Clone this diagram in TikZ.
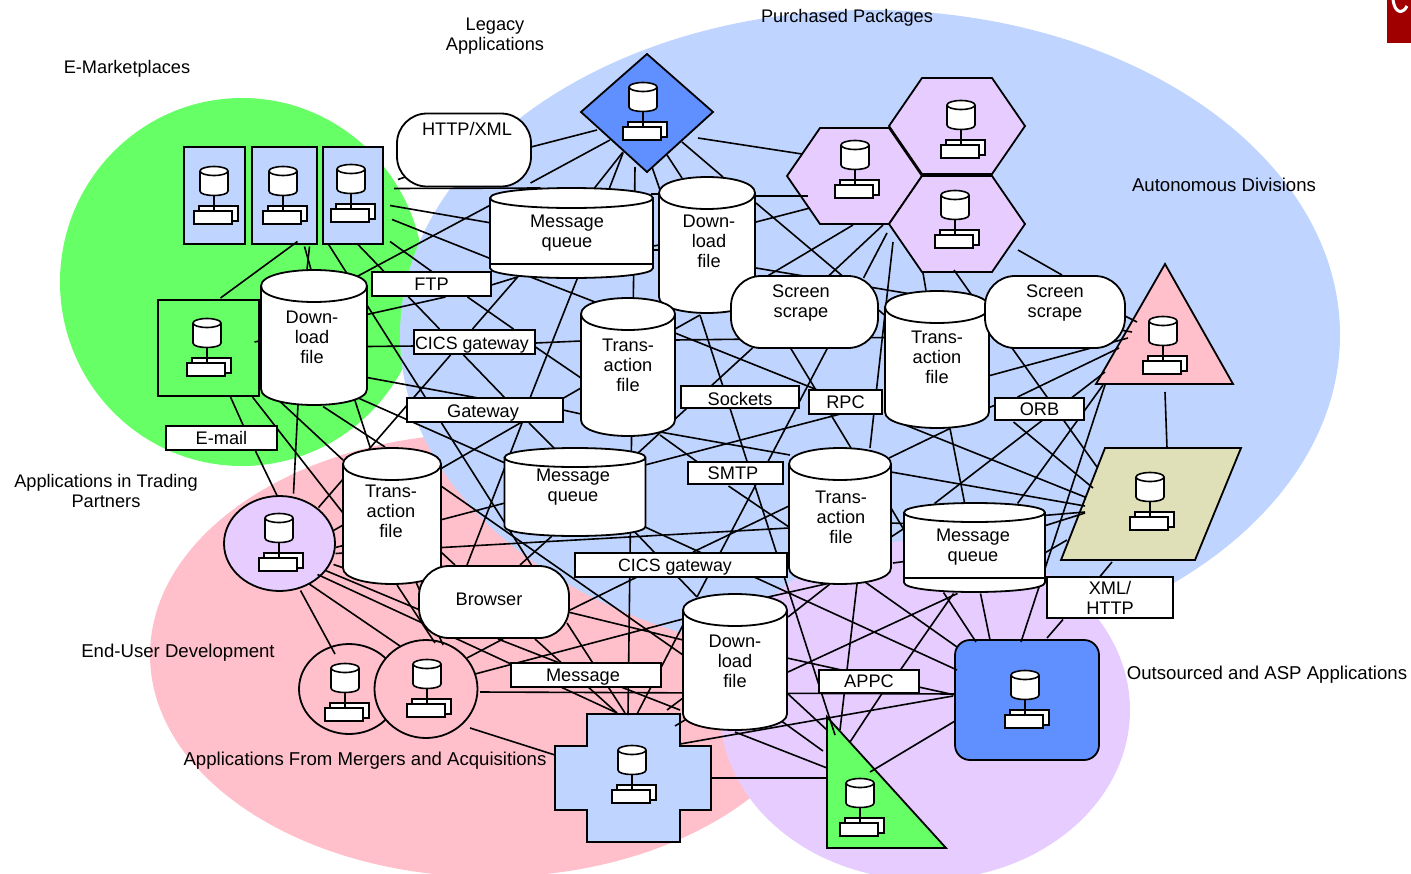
\documentclass[tikz,border=0pt]{standalone}
\usepackage{fontspec}
\setmainfont{Liberation Sans}
\usepackage{xcolor}
\usetikzlibrary{shapes.geometric}
\definecolor{zoneblue}{HTML}{BFD4FF}
\definecolor{zonegreen}{HTML}{66FF66}
\definecolor{zonepink}{HTML}{FFC0CB}
\definecolor{zonelav}{HTML}{E6CCFF}
\definecolor{deepblue}{HTML}{6090FF}
\definecolor{tanfill}{HTML}{E0E0B8}
\definecolor{logored}{HTML}{A00000}
\pgfdeclarelayer{back}
\pgfdeclarelayer{links}
\pgfsetlayers{back,links,main}
\tikzset{
  every node/.style={font=\fontsize{18.2}{20}\selectfont,align=center},
  zonecap/.style={font=\fontsize{18.6}{20}\selectfont},
  wire/.style={line width=1.6pt},
  plain/.style={draw,line width=1.8pt,inner sep=0pt},
  lbl/.style={plain,rectangle,fill=white},
  pill/.style={plain,rectangle,fill=white,rounded corners=30pt,minimum width=#1,minimum height=72pt},
  server/.pic={
    \draw[line width=1.6pt,fill=white] (-15,35) rectangle (24,50);
    \draw[line width=1.6pt] (0,25) -- (0,40);
    \draw[line width=1.6pt,fill=white] (-20,40) rectangle (18,53);
    \draw[line width=1.6pt,fill=white] (-14,0) -- (-14,20) .. controls (-14,26) and (14,26) .. (14,20) -- (14,0);
    \draw[line width=1.6pt,fill=white] (0,0) ellipse [x radius=14,y radius=4.5];
  }
}
\newcommand{\lnk}[4]{\draw[wire] ([shift={(#2)}]#1.center) -- ([shift={(#4)}]#3.center);}
% name, x, y, width, height, end radius
\newcommand{\canfile}[6]{%
  \node[inner sep=0pt,minimum width=#4pt,minimum height=#5pt] (#1) at (#2,#3) {};
  \draw[line width=1.8pt,fill=white,shift={(#2,#3)}] (-#4/2,-#5/2+#6) -- (-#4/2,#5/2-#6)
    .. controls (-#4/2,#5/2+#6/3) and (#4/2,#5/2+#6/3) .. (#4/2,#5/2-#6) -- (#4/2,-#5/2+#6)
    .. controls (#4/2,-#5/2-#6/3) and (-#4/2,-#5/2-#6/3) .. (-#4/2,-#5/2+#6)
    .. controls (-#4/2,-#5/2+#6*7/3) and (#4/2,-#5/2+#6*7/3) .. (#4/2,-#5/2+#6);
}
\begin{document}
\begin{tikzpicture}[x=1pt,y=-1pt]
\useasboundingbox (0,0) rectangle (1411,873);
\begin{pgfonlayer}{back}
  % zones
  \fill[zonegreen] (242,282) ellipse [x radius=182,y radius=184];
  \fill[zonepink] (490,655) ellipse [x radius=340,y radius=222];
  \fill[zoneblue] (870,335) ellipse [x radius=470,y radius=325];
  \fill[zonelav] (925,710) ellipse [x radius=205,y radius=170];
  \fill[logored] (1387,0) rectangle (1411,43);
  \draw[white,line width=3pt] (1393,0) .. controls (1395,14) and (1403,14) .. (1407,6);
  % coloured application shapes
  \node[plain,fill=zoneblue,minimum width=61pt,minimum height=97pt] (emA) at (214.5,195.5) {};
  \node[plain,fill=zoneblue,minimum width=65pt,minimum height=97pt] (emB) at (284.5,195.5) {};
  \node[plain,fill=zoneblue,minimum width=60pt,minimum height=97pt] (emC) at (353,195.5) {};
  \node[plain,fill=zonegreen,minimum width=101pt,minimum height=96pt] (sqG) at (208.5,348) {};
  \node[plain,ellipse,fill=zonelav,minimum width=111pt,minimum height=95pt] (lavC) at (279.5,543.5) {};
  \node[plain,ellipse,fill=zonepink,minimum width=100pt,minimum height=90pt] (cirA) at (349,689) {};
  \node[plain,ellipse,fill=zonepink,minimum width=103pt,minimum height=98pt] (cirB) at (426,689) {};
  \node[plain,fill=deepblue,rounded corners=15pt,minimum width=144pt,minimum height=120pt] (bluR) at (1027,700) {};
  \coordinate (diaL) at (647,113);
  \coordinate (hexA) at (855,176);
  \coordinate (hexB) at (957,126);
  \coordinate (hexC) at (957,224);
  \coordinate (crsP) at (633,778);
  \coordinate (triG) at (860,790);
  \coordinate (tanP) at (1150,504);
  \coordinate (triP) at (1165,340);
  \draw[line width=1.8pt,fill=deepblue] (581,112) -- (647,54) -- (713,112) -- (647,172) -- cycle;
  \draw[line width=1.8pt,fill=zonelav] (787,176) -- (820,128) -- (889,128) -- (922,176) -- (889,224) -- (820,224) -- cycle;
  \draw[line width=1.8pt,fill=zonelav] (889,126) -- (922,78) -- (992,78) -- (1025,126) -- (992,174) -- (922,174) -- cycle;
  \draw[line width=1.8pt,fill=zonelav] (889,224) -- (922,176) -- (992,176) -- (1025,224) -- (992,272) -- (922,272) -- cycle;
  \draw[line width=1.8pt,fill=zoneblue] (587,714) -- (680,714) -- (680,746) -- (711,746) -- (711,810) -- (680,810) -- (680,842) -- (587,842) -- (587,810) -- (555,810) -- (555,746) -- (587,746) -- cycle;
  \draw[line width=1.8pt,fill=zonegreen] (827,717) -- (946,848) -- (827,848) -- cycle;
  \draw[line width=1.8pt,fill=tanfill] (1105,448) -- (1241,448) -- (1195,560) -- (1061,560) -- cycle;
  \draw[line width=1.8pt,fill=zonepink] (1165,264) -- (1233,384) -- (1096,384) -- cycle;
\end{pgfonlayer}

% files and queues
\canfile{msgA}{571.5}{233}{163}{90}{10}
\canfile{msgB}{575}{492}{141}{88}{9.5}
\canfile{msgC}{974.5}{547.5}{141}{89}{9.5}
\canfile{dlB}{707}{245}{96}{136}{16}
\canfile{dlA}{314}{337.5}{106}{135}{16}
\canfile{dlC}{735}{662}{104}{136}{16}
\canfile{trA}{628}{367}{94}{138}{16}
\canfile{trB}{937}{359.5}{104}{137}{16}
\canfile{trC}{392}{516}{98}{136}{16}
\canfile{trD}{840}{516}{102}{136}{16}
\draw[line width=1.5pt] (490,264) -- (653,264);
\draw[line width=1.5pt] (904,578) -- (1045,578);
\node (msgAtxt) at (567,233) {Message\\queue};
\node (msgBtxt) at (573,487) {Message\\queue};
\node (msgCtxt) at (973,547) {Message\\queue};
\node (dlAtxt) at (312,337) {Down-\\load\\file};
\node (dlBtxt) at (709,241) {Down-\\load\\file};
\node (dlCtxt) at (735,661) {Down-\\load\\file};
\node (trAtxt) at (628,365) {Trans-\\action\\file};
\node (trBtxt) at (937,357) {Trans-\\action\\file};
\node (trCtxt) at (391,511) {Trans-\\action\\file};
\node (trDtxt) at (841,517) {Trans-\\action\\file};

% pills
\node[pill=134pt,minimum height=73pt] (httpB) at (464,150) {};
\node[pill=147pt] (scrA) at (804.5,312) {};
\node[pill=140pt] (scrB) at (1055,312) {};
\node[pill=150pt] (brwP) at (494,602) {};
\node (httpT) at (467,129) {HTTP/XML};
\node (scrAtxt) at (801,303) {Screen\\scrape};
\node (scrBtxt) at (1055,303) {Screen\\scrape};
\node (brwT) at (489,599) {Browser};

% protocol boxes
\node[lbl,minimum width=119pt,minimum height=24pt] (ftpL) at (431.5,284) {FTP};
\node[lbl,minimum width=121pt,minimum height=24pt] (cicsA) at (474.5,342) {};
\node[font=\fontsize{17.8}{20}\selectfont] (cicsAt) at (472,345) {CICS gateway};
\node[lbl,minimum width=156pt,minimum height=24pt] (gateL) at (485,410) {};
\node (gateT) at (483,413) {Gateway};
\node[lbl,minimum width=111pt,minimum height=24pt] (mailL) at (221.5,438) {E-mail};
\node[lbl,minimum width=118pt,minimum height=22pt] (sockL) at (740,397) {};
\node (sockT) at (740,399) {Sockets};
\node[lbl,minimum width=73pt,minimum height=24pt] (rpcL) at (845.5,402) {RPC};
\node[lbl,minimum width=89pt,minimum height=22pt] (orbL) at (1039.5,409) {ORB};
\node[lbl,minimum width=95pt,minimum height=22pt] (smtpL) at (735.5,473) {};
\node (smtpT) at (733,473) {SMTP};
\node[lbl,minimum width=212pt,minimum height=24pt] (cicsB) at (681,565) {};
\node[font=\fontsize{17.8}{20}\selectfont] (cicsBt) at (675,567) {CICS gateway};
\node[lbl,minimum width=150pt,minimum height=24pt] (msgL) at (586,675) {};
\node (msgLt) at (583,677) {Message};
\node[lbl,minimum width=100pt,minimum height=23pt] (appcL) at (869,681.5) {APPC};
\node[lbl,minimum width=126pt,minimum height=41pt] (xmlL) at (1110,597.5) {XML/\\HTTP};

% servers
\pic (srvL) at (643,87) {server};
\pic (srvHA) at (855,145) {server};
\pic (srvHB) at (961,105) {server};
\pic (srvHC) at (955,195) {server};
\pic (srvEA) at (214,171) {server};
\pic (srvEB) at (283,171) {server};
\pic (srvEC) at (351,169) {server};
\pic (srvG) at (207,323) {server};
\pic (srvT) at (279,518) {server};
\pic (srvCA) at (345,668) {server};
\pic (srvCB) at (427,664) {server};
\pic (srvX) at (632,750) {server};
\pic (srvTG) at (860,783) {server};
\pic (srvR) at (1025,675) {server};
\pic (srvTN) at (1150,477) {server};
\pic (srvTP) at (1163,321) {server};

% zone captions
\node (capLeg) at (495,36) {Legacy\\Applications};
\node (capPur) at (847,18) {Purchased Packages};
\node (capEm) at (127,69) {E-Marketplaces};
\node[zonecap] (capAut) at (1224,185) {Autonomous Divisions};
\node (capTrd) at (106,491) {Applications in Trading\\Partners};
\node[zonecap] (capEnd) at (178,653) {End-User Development};
\node[zonecap] (capMrg) at (365,761) {Applications From Mergers and Acquisitions};
\node[zonecap] (capOut) at (1267,675) {Outsourced and ASP Applications};

\begin{pgfonlayer}{links}
  % e-marketplace side
  \lnk{emC}{45,-16}{httpB}{-44,22}
  \lnk{emC}{41,-7}{msgA}{-31,-45}
  \lnk{emC}{37,10}{msgA}{-80,-10}
  \lnk{emC}{39,24}{msgA}{-80,26}
  \lnk{emC}{37,46}{ftpL}{1,-12}
  \lnk{emC}{4,48}{cicsA}{-35,-13}
  \lnk{emC}{-25,48}{brwP}{38,-36}
  \lnk{emB}{13,46}{sqG}{12,-50}
  \lnk{emB}{20,51}{dlA}{-3,-68}
  \lnk{emB}{25,51}{dlA}{-7,-68}
  \lnk{dlA}{43,-61}{msgA}{-81,-28}
  \lnk{dlA}{53,-23}{ftpL}{14,13}
  \lnk{ftpL}{60,1}{msgA}{-54,44}
  \lnk{ftpL}{36,13}{cicsA}{39,-13}
  \lnk{cicsA}{-2,-13}{msgA}{-53,43}
  \lnk{dlA}{53,9}{cicsA}{-59,4}
  \lnk{cicsA}{-24,13}{lavC}{39,-36}
  \lnk{cicsA}{-11,13}{gateL}{20,-12}
  \lnk{msgA}{6,45}{gateL}{45,-12}
  \lnk{cicsA}{61,1}{trA}{-47,-26}
  \lnk{cicsA}{61,5}{trA}{-47,11}
  \lnk{dlA}{53,40}{gateL}{-7,-12}
  \lnk{dlA}{43,60}{msgB}{-70,-29}
  \lnk{dlA}{40,60}{trC}{-22,-69}
  \lnk{dlA}{9,69}{trC}{-7,-69}
  \lnk{dlA}{-34,64}{trC}{-49,-56}
  \lnk{dlA}{-16,67}{lavC}{14,-50}
  \lnk{sqG}{22,49}{mailL}{22,-12}
  \lnk{mailL}{34,13}{lavC}{-2,-47}
  \lnk{sqG}{44,49}{trC}{-49,-3}
  \lnk{sqG}{46,-6}{dlA}{-52,3}
  % trading partner
  \lnk{lavC}{54,-13}{trA}{-47,21}
  \lnk{lavC}{56,4}{msgB}{-70,11}
  \lnk{lavC}{56,10}{trD}{-51,12}
  \lnk{lavC}{54,21}{trC}{-42,54}
  \lnk{lavC}{46,27}{brwP}{-74,8}
  \lnk{lavC}{38,31}{crsP}{-16,-65}
  \lnk{lavC}{29,40}{cirB}{-26,-43}
  \lnk{lavC}{21,47}{cirA}{-14,-35}
  % browser and end user
  \lnk{trC}{24,66}{cirB}{17,-44}
  \lnk{trC}{5,69}{cirB}{9,-46}
  \lnk{brwP}{9,37}{cirB}{41,-31}
  \lnk{brwP}{4,37}{dlC}{-55,48}
  \lnk{brwP}{41,37}{crsP}{-16,-65}
  \lnk{brwP}{73,21}{crsP}{-8,-65}
  \lnk{brwP}{74,10}{dlC}{-52,-22}
  \lnk{brwP}{76,8}{cicsB}{-44,12}
  \lnk{cirB}{49,-15}{dlC}{-52,-43}
  \lnk{cirB}{54,3}{bluR}{-72,-6}
  \lnk{cirB}{44,39}{crsP}{-78,-23}
  \lnk{dlC}{-52,-37}{crsP}{4,-64}
  \lnk{crsP}{34,-68}{dlC}{-52,36}
  \lnk{crsP}{42,-52}{dlC}{-45,55}
  \lnk{diaL}{-12,54}{crsP}{-5,-63}
  % middle
  \lnk{gateL}{37,13}{brwP}{-27,-37}
  \lnk{gateL}{44,13}{msgB}{-21,-44}
  \lnk{trC}{49,-30}{dlC}{-52,-7}
  \lnk{trC}{49,36}{brwP}{-39,-37}
  \lnk{msgB}{-23,44}{brwP}{26,-37}
  \lnk{msgB}{58,38}{dlC}{-38,-65}
  \lnk{msgB}{70,35}{bluR}{-70,-30}
  \lnk{cicsB}{12,-13}{trD}{-51,-10}
  \lnk{scrA}{23,36}{dlC}{-38,-65}
  \lnk{smtpL}{-7,13}{trD}{-51,11}
  \lnk{dlB}{-7,70}{triG}{-25,-55}
  \lnk{msgB}{70,-27}{rpcL}{-5,12}
  \lnk{trA}{32,65}{trD}{-50,-61}
  \lnk{trA}{32,68}{smtpL}{-38,-11}
  \lnk{scrA}{-52,36}{msgB}{63,-39}
  \lnk{gateL}{78,0}{trA}{-47,47}
  % outsourced side
  \lnk{dlC}{33,-65}{trD}{-10,67}
  \lnk{dlC}{53,-45}{trD}{-10,68}
  \lnk{trD}{17,68}{triG}{-20,-60}
  \lnk{trD}{25,66}{bluR}{-70,-53}
  \lnk{dlC}{52,-4}{bluR}{-72,-5}
  \lnk{dlC}{53,10}{msgC}{-17,46}
  \lnk{appcL}{31,-11}{msgC}{-21,46}
  \lnk{appcL}{13,12}{triG}{-10,-48}
  \lnk{msgC}{-31,45}{bluR}{-51,-58}
  \lnk{dlC}{52,31}{triG}{-33,-60}
  \lnk{dlC}{45,58}{triG}{-37,-39}
  \lnk{dlC}{0,70}{triG}{-33,-22}
  \lnk{triG}{10,-18}{bluR}{-72,21}
  \lnk{crsP}{78,0}{triG}{-33,-12}
  \lnk{crsP}{47,-34}{bluR}{-74,-4}
  \lnk{msgC}{6,46}{bluR}{-37,-60}
  \lnk{triP}{-60,45}{bluR}{-6,-58}
  \lnk{xmlL}{-47,22}{bluR}{20,-62}
  \lnk{tanP}{-38,58}{xmlL}{-10,-21}
  \lnk{trD}{51,-8}{msgC}{-69,-15}
  \lnk{trD}{51,21}{msgC}{-69,-20}
  \lnk{trD}{51,7}{msgC}{-70,-24}
  \lnk{trD}{53,47}{msgC}{-70,14}
  \lnk{scrA}{-14,36}{trD}{11,-68}
  \lnk{hexA}{38,66}{trD}{30,-68}
  \lnk{trB}{13,69}{trD}{49,-58}
  \lnk{trB}{13,69}{msgC}{-10,-45}
  \lnk{trB}{-48,59}{tanP}{-65,-7}
  \lnk{trD}{51,-44}{tanP}{-65,2}
  \lnk{msgC}{69,-32}{tanP}{-65,8}
  \lnk{msgC}{71,-22}{tanP}{-65,9}
  \lnk{msgC}{71,5}{tanP}{-83,36}
  % autonomous divisions
  \lnk{hexC}{61,26}{scrB}{7,-37}
  \lnk{scrB}{-43,36}{tanP}{-53,-37}
  \lnk{trB}{53,16}{triP}{-37,-2}
  \lnk{orbL}{-22,-12}{triP}{-46,8}
  \lnk{triP}{-60,32}{msgC}{-40,-44}
  \lnk{triP}{-62,45}{msgC}{43,-44}
  \lnk{orbL}{-26,13}{tanP}{-57,-16}
  \lnk{scrB}{70,4}{triP}{-28,-18}
  \lnk{scrB}{65,18}{triP}{-33,-8}
  \lnk{triP}{0,52}{tanP}{17,-56}
  \lnk{trB}{52,48}{orbL}{-44,-4}
  % legacy and packages
  \lnk{diaL}{51,25}{hexA}{-53,-22}
  \lnk{diaL}{35,29}{dlB}{16,-68}
  \lnk{diaL}{20,42}{dlB}{-25,-67}
  \lnk{diaL}{5,54}{dlB}{-47,-55}
  \lnk{diaL}{-24,40}{msgA}{38,-45}
  \lnk{diaL}{-24,39}{msgA}{23,-45}
  \lnk{diaL}{-37,27}{msgA}{-41,-50}
  \lnk{diaL}{-50,17}{httpB}{67,-3}
  \lnk{dlB}{47,-49}{hexA}{-47,20}
  \lnk{dlB}{49,-23}{hexA}{-45,32}
  \lnk{dlB}{49,-42}{scrA}{38,-36}
  \lnk{dlB}{49,23}{trB}{-29,-66}
  \lnk{hexA}{-2,49}{scrA}{-37,-36}
  \lnk{hexA}{28,49}{scrA}{24,-36}
  \lnk{hexA}{32,57}{scrA}{59,-34}
  \lnk{hexC}{-34,49}{trB}{-11,-69}
  \lnk{hexC}{-3,46}{trB}{35,-64}
  \lnk{trA}{47,-27}{trB}{-52,-22}
  \lnk{dlB}{-7,70}{trA}{47,-38}
  \lnk{trA}{47,-34}{rpcL}{-28,-12}
  \lnk{msgA}{79,-39}{dlB}{-48,-51}
  \lnk{msgA}{82,13}{dlB}{-48,0}
  \lnk{msgA}{82,17}{dlB}{-48,5}
  \lnk{msgA}{-41,44}{trA}{-33,-65}
  \lnk{scrA}{74,-2}{trB}{-52,-44}
\end{pgfonlayer}
\end{tikzpicture}
\end{document}
